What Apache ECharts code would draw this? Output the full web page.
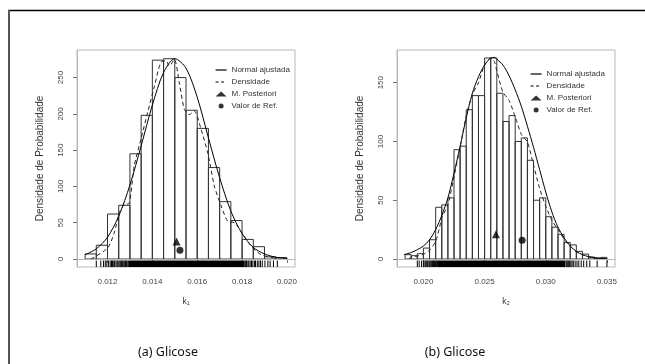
<!DOCTYPE html>
<html>
<head>
<meta charset="utf-8">
<script src="https://cdn.jsdelivr.net/npm/echarts@6/dist/echarts.min.js"></script>
<style>
  html, body { margin: 0; padding: 0; background: #fff; }
  #chart { width: 645px; height: 364px; }
</style>
</head>
<body>
<div id="chart"></div>
<script>
// ---- (a) k1 ----
const k1Breaks = [0.0110, 0.0115, 0.0120, 0.0125, 0.0130, 0.0135, 0.0140, 0.0145, 0.0150, 0.0155,
  0.0160, 0.0165, 0.0170, 0.0175, 0.0180, 0.0185, 0.0190, 0.0195, 0.0200]
const k1Hist = [7, 19, 62, 74, 145, 198, 274, 276, 250, 205, 180, 126, 79, 53, 27, 17, 3, 2]
const k1NormX = [0.0110, 0.0115, 0.0120, 0.0125, 0.0130, 0.0135, 0.0140, 0.0145, 0.0150, 0.0155,
  0.0160, 0.0165, 0.0170, 0.0175, 0.0180, 0.0185, 0.0190, 0.0195, 0.0200]
const k1NormY = [6, 14, 30, 59, 102, 156, 212, 257, 276, 263, 223, 167, 112, 66, 35, 16, 7, 2.5, 0.8]
const k1DensX = [0.01126, 0.0120, 0.0123, 0.01252, 0.01274, 0.01297, 0.01319, 0.01349, 0.01379, 0.01409,
  0.01438, 0.01461, 0.01476, 0.01498, 0.0152, 0.01543, 0.01565, 0.01587, 0.01617, 0.01647,
  0.01677, 0.01707, 0.01736, 0.01766, 0.01796, 0.01841, 0.01885, 0.01945]
const k1DensY = [0, 15, 36, 63, 75, 77, 128, 165, 202, 238, 271, 273, 266, 275, 243, 206, 199, 204,
  179, 146, 100, 73, 52, 50, 38, 17.5, 6, 1.4]
const k1Post = [0.01508, 24]
const k1Ref = [0.01523, 12]
const k1Rug = [0.01150, 0.01170, 0.01182, 0.01190, 0.01197, 0.01205, 0.01212, 0.01218, 0.01222, 0.01228,
  0.01232, 0.01238, 0.01243, 0.01247, 0.01252, 0.01257, 0.01262, 0.01266, 0.01270, 0.01275, 0.01280,
  0.01284, 0.01288, 0.01816, 0.01820, 0.01826, 0.01830, 0.01836, 0.01842, 0.01848, 0.01855, 0.01860,
  0.01868, 0.01875, 0.01882, 0.01890, 0.01902, 0.01915, 0.01925, 0.01940, 0.01957]
const k1RugBand = [[0.01292, 0.01812]]
const k1Ticks = [0.012, 0.014, 0.016, 0.018, 0.020]
const k1YTicks = [0, 50, 100, 150, 200, 250]

// ---- (b) k2 ----
const k2Breaks = [0.0185, 0.0190, 0.0195, 0.0200, 0.0205, 0.0210, 0.0215, 0.0220, 0.0225, 0.0230,
  0.0235, 0.0240, 0.0245, 0.0250, 0.0255, 0.0260, 0.0265, 0.0270, 0.0275, 0.0280, 0.0285, 0.0290,
  0.0295, 0.0300, 0.0305, 0.0310, 0.0315, 0.0320, 0.0325, 0.0330, 0.0335, 0.0340, 0.0345, 0.0350]
const k2Hist = [3.7, 2.8, 4.5, 9.3, 16.4, 44, 46, 52, 93, 96, 127, 139, 139, 171, 171, 141, 117, 122,
  100, 103, 84, 50, 52, 36, 27, 21, 14, 12, 6.5, 4.2, 1.7, 0.8, 1.4]
const k2NormX = [0.0184, 0.0190, 0.0195, 0.0200, 0.0205, 0.0210, 0.0215, 0.0220, 0.0225, 0.0230,
  0.0235, 0.0240, 0.0245, 0.0250, 0.0255, 0.0258, 0.0260, 0.0265, 0.0270, 0.0275, 0.0280, 0.0285,
  0.0290, 0.0295, 0.0300, 0.0305, 0.0310, 0.0315, 0.0320, 0.0325, 0.0330, 0.0335, 0.0340, 0.0350]
const k2NormY = [3.7, 5.5, 8, 11, 16.4, 25, 37, 52, 73, 96, 120, 141, 155, 165, 171, 171.5, 170, 165,
  156, 144, 130, 113, 95, 76, 57, 40, 27, 18, 11, 6.5, 3.7, 2, 1, 0.3]
const k2DensX = [0.0188, 0.0190, 0.0195, 0.0200, 0.0205, 0.0210, 0.0213, 0.0215, 0.0220, 0.0225,
  0.0230, 0.0235, 0.0240, 0.0245, 0.0250, 0.0255, 0.0258, 0.0260, 0.0265, 0.0270, 0.0275, 0.0280,
  0.0283, 0.0285, 0.0290, 0.0295, 0.0300, 0.0305, 0.0310, 0.0315, 0.0320, 0.0325, 0.0330, 0.0335,
  0.0340, 0.0345]
const k2DensY = [0, 1.5, 2.5, 4, 7.5, 15, 26, 35, 46, 70, 95, 122, 140, 150, 165, 171, 168, 160, 142,
  135, 121, 106, 102, 100, 80, 60, 45, 33, 25, 17, 11, 6, 3.5, 2, 1, 0.4]
const k2Post = [0.02593, 21]
const k2Ref = [0.02807, 16]
const k2Rug = [0.01950, 0.01965, 0.01985, 0.02000, 0.02012, 0.02020, 0.02028, 0.02035, 0.02045,
  0.02052, 0.02060, 0.02068, 0.02075, 0.02082, 0.02090, 0.02098, 0.02105, 0.02110, 0.03165, 0.03172,
  0.03180, 0.03188, 0.03195, 0.03205, 0.03215, 0.03225, 0.03240, 0.03255, 0.03270, 0.03290, 0.03310,
  0.03335, 0.03360, 0.03420, 0.03500]
const k2RugBand = [[0.02112, 0.03158]]
const k2Ticks = [0.020, 0.025, 0.030, 0.035]
const k2YTicks = [0, 50, 100, 150]

const FONT = 'Liberation Sans'

function renderHist(params, api) {
	const p0 = api.coord([api.value(0), api.value(2)])
	const p1 = api.coord([api.value(1), 0])
	return {
		type: 'rect',
		shape: { x: p0[0], y: p0[1], width: p1[0] - p0[0], height: p1[1] - p0[1] },
		style: { fill: 'none', stroke: '#333', lineWidth: 1 }
	}
}

function renderRug(params, api) {
	const x = api.coord([api.value(0), 0])[0]
	const bottom = params.coordSys.y + params.coordSys.height
	return {
		type: 'line',
		shape: { x1: x, y1: bottom, x2: x, y2: bottom - 6.5 },
		style: { stroke: '#000', lineWidth: 1 }
	}
}

function renderRugBand(params, api) {
	const xa = api.coord([api.value(0), 0])[0]
	const xb = api.coord([api.value(1), 0])[0]
	const bottom = params.coordSys.y + params.coordSys.height
	return {
		type: 'rect',
		shape: { x: xa, y: bottom - 6.5, width: xb - xa, height: 6.5 },
		style: { fill: '#000' }
	}
}

function zip(xs, ys) {
	return xs.map((x, i) => [x, ys[i]])
}

function panelSeries(idx, breaks, hist, normX, normY, densX, densY, post, ref, rug, rugBand) {
	const base = { xAxisIndex: idx, yAxisIndex: idx }
	return [
		{
			...base,
			type: 'custom',
			renderItem: renderHist,
			encode: { x: [0, 1], y: 2 },
			data: hist.map((h, j) => [breaks[j], breaks[j + 1], h]),
			markLine: {
				silent: true,
				symbol: 'none',
				label: { show: false },
				lineStyle: { color: '#b8b8b8', type: 'solid', width: 1 },
				data: [{ yAxis: 0 }]
			}
		},
		{
			...base,
			type: 'custom',
			renderItem: renderRug,
			encode: { x: 0, y: 1 },
			data: rug.map(v => [v, 0])
		},
		{
			...base,
			type: 'custom',
			renderItem: renderRugBand,
			encode: { x: [0, 1] },
			data: rugBand
		},
		{
			...base,
			name: 'Normal ajustada',
			type: 'line',
			smooth: 0.3,
			symbol: 'none',
			color: '#000',
			lineStyle: { color: '#000', width: 1 },
			data: zip(normX, normY)
		},
		{
			...base,
			name: 'Densidade',
			type: 'line',
			smooth: 0.25,
			symbol: 'none',
			color: '#222',
			lineStyle: { color: '#222', width: 1, type: [4, 3] },
			data: zip(densX, densY)
		},
		{
			...base,
			name: 'M. Posteriori',
			type: 'scatter',
			symbol: 'triangle',
			symbolSize: 8,
			symbolKeepAspect: true,
			itemStyle: { color: '#000' },
			data: [post]
		},
		{
			...base,
			name: 'Valor de Ref.',
			type: 'scatter',
			symbol: 'circle',
			symbolSize: 7,
			symbolKeepAspect: true,
			itemStyle: { color: '#000' },
			data: [ref]
		}
	]
}

function xAxisOpt(idx, min, max, ticks, name) {
	return {
		gridIndex: idx,
		type: 'value',
		min: min,
		max: max,
		name: name,
		nameLocation: 'middle',
		nameGap: 30,
		nameTextStyle: { fontFamily: FONT, fontSize: 8.5, color: '#333' },
		axisLine: { lineStyle: { color: '#b8b8b8' } },
		axisTick: { show: true, length: 4, lineStyle: { color: '#777' }, customValues: ticks },
		axisLabel: {
			fontFamily: FONT, fontSize: 8, color: '#444', margin: 11,
			customValues: ticks,
			formatter: v => v.toFixed(3)
		},
		splitLine: { show: false }
	}
}

function yAxisOpt(idx, min, max, ticks) {
	return {
		gridIndex: idx,
		type: 'value',
		min: min,
		max: max,
		name: 'Densidade de Probabilidade',
		nameLocation: 'middle',
		nameGap: 32,
		nameTextStyle: { fontFamily: FONT, fontSize: 10, color: '#333' },
		axisLine: { show: true, lineStyle: { color: '#b8b8b8' } },
		axisTick: { show: true, length: 4, lineStyle: { color: '#777' }, customValues: ticks },
		axisLabel: {
			fontFamily: FONT, fontSize: 8, color: '#444', margin: 12, rotate: 90,
			customValues: ticks
		},
		splitLine: { show: false }
	}
}

function legendOpt(left, top) {
	return {
		left: left,
		top: top,
		orient: 'vertical',
		itemWidth: 11,
		itemHeight: 5,
		itemGap: 4,
		selectedMode: false,
		textStyle: { fontFamily: FONT, fontSize: 8, color: '#333' },
		data: [
			{ name: 'Normal ajustada', itemStyle: { opacity: 0 }, lineStyle: { width: 1.2, color: '#000' } },
			{ name: 'Densidade', itemStyle: { opacity: 0 }, lineStyle: { width: 1.2, color: '#000', type: [3, 2.5] } },
			{ name: 'M. Posteriori' },
			{ name: 'Valor de Ref.' }
		]
	}
}

const myChart = echarts.init(document.getElementById('chart'), null, { renderer: 'canvas' })

myChart.setOption({
	animation: false,
	backgroundColor: '#fff',
	grid: [
		{ left: 77, top: 50, width: 218, height: 217, show: true, borderColor: '#b8b8b8', borderWidth: 1 },
		{ left: 397, top: 50, width: 218, height: 217, show: true, borderColor: '#b8b8b8', borderWidth: 1 }
	],
	xAxis: [
		xAxisOpt(0, 0.01064, 0.02036, k1Ticks, 'k₁'),
		xAxisOpt(1, 0.01784, 0.03566, k2Ticks, 'k₂')
	],
	yAxis: [
		yAxisOpt(0, -11, 288, k1YTicks),
		yAxisOpt(1, -6.8, 177.8, k2YTicks)
	],
	legend: [legendOpt(210, 61), legendOpt(525, 65)],
	series: [
		...panelSeries(0, k1Breaks, k1Hist, k1NormX, k1NormY, k1DensX, k1DensY, k1Post, k1Ref, k1Rug, k1RugBand),
		...panelSeries(1, k2Breaks, k2Hist, k2NormX, k2NormY, k2DensX, k2DensY, k2Post, k2Ref, k2Rug, k2RugBand)
	],
	graphic: [
		{ type: 'line', shape: { x1: 8, y1: 10.5, x2: 645, y2: 10.5 }, style: { stroke: '#000', lineWidth: 1.5 } },
		{ type: 'line', shape: { x1: 9, y1: 10, x2: 9, y2: 364 }, style: { stroke: '#555', lineWidth: 2 } },
		{
			type: 'text', x: 168, y: 352,
			style: { text: '(a) Glicose', fontFamily: 'Noto Sans', fontSize: 12.5, fill: '#111', textAlign: 'center', textVerticalAlign: 'middle' }
		},
		{
			type: 'text', x: 455, y: 352,
			style: { text: '(b) Glicose', fontFamily: 'Noto Sans', fontSize: 12.5, fill: '#111', textAlign: 'center', textVerticalAlign: 'middle' }
		}
	]
})

window.addEventListener('resize', function() {
	myChart.resize()
})
</script>
</body>
</html>
